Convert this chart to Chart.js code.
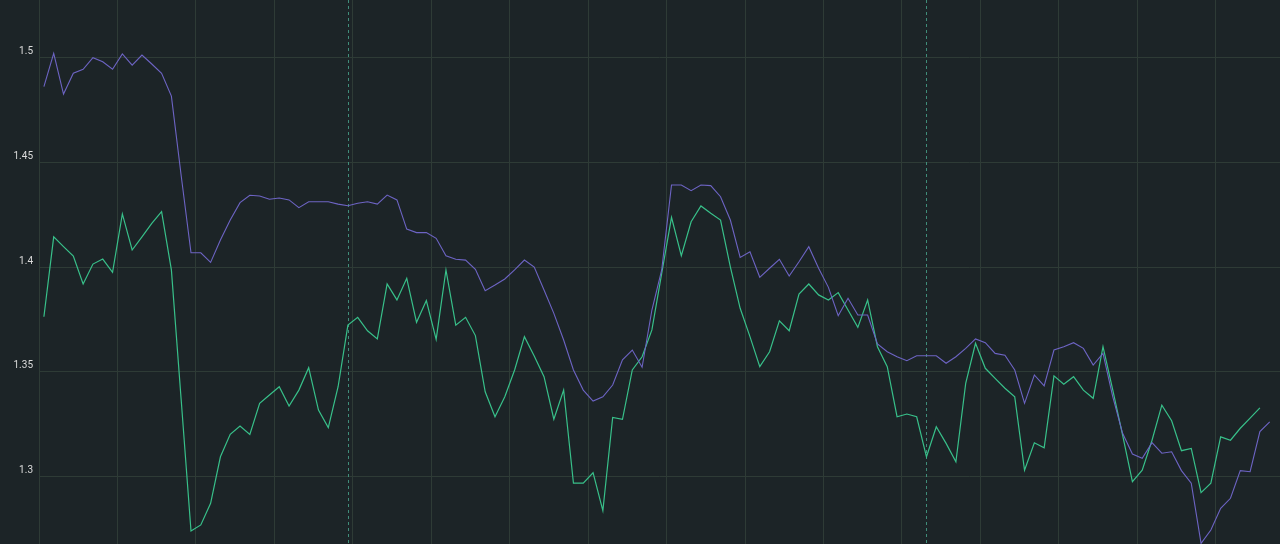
<!DOCTYPE html>
<html>
<head>
<meta charset="utf-8">
<script src="https://cdn.jsdelivr.net/npm/chart.js@4"></script>
<style>
  html, body { margin: 0; padding: 0; background: #1c2427; }
  #wrap { width: 1280px; height: 544px; }
</style>
</head>
<body>
<div id="wrap"><canvas id="chart"></canvas></div>
<script>
const purpleValues = [
    1.4860, 1.5019, 1.4825, 1.4924, 1.4943, 1.4998, 1.4979, 1.4943, 1.5016, 1.4963,
    1.5011, 1.4968, 1.4924, 1.4815, 1.4435, 1.4068, 1.4068, 1.4022, 1.4129, 1.4224,
    1.4307, 1.4342, 1.4339, 1.4323, 1.4329, 1.4320, 1.4283, 1.4311, 1.4311, 1.4311,
    1.4300, 1.4292, 1.4304, 1.4311, 1.4300, 1.4343, 1.4320, 1.4181, 1.4164, 1.4164,
    1.4137, 1.4054, 1.4037, 1.4033, 1.3989, 1.3887, 1.3914, 1.3943, 1.3986, 1.4033,
    1.4000, 1.3890, 1.3779, 1.3652, 1.3509, 1.3413, 1.3361, 1.3381, 1.3437, 1.3557,
    1.3604, 1.3522, 1.3795, 1.3986, 1.4391, 1.4391, 1.4364, 1.4391, 1.4388, 1.4335,
    1.4224, 1.4046, 1.4073, 1.3951, 1.3994, 1.4037, 1.3957, 1.4025, 1.4097, 1.3994,
    1.3903, 1.3768, 1.3851, 1.3771, 1.3771, 1.3633, 1.3596, 1.3572, 1.3553, 1.3577,
    1.3577, 1.3577, 1.3541, 1.3572, 1.3612, 1.3657, 1.3639, 1.3588, 1.3579, 1.3509,
    1.3350, 1.3485, 1.3433, 1.3604, 1.3620, 1.3639, 1.3612, 1.3532, 1.3588, 1.3381,
    1.3207, 1.3108, 1.3088, 1.3162, 1.3112, 1.3119, 1.3029, 1.2969, 1.2682, 1.2746,
    1.2849, 1.2897, 1.3029, 1.3024, 1.3215, 1.3262
];

const greenValues = [
    1.3763, 1.4144, 1.4097, 1.4052, 1.3919, 1.4014, 1.4038, 1.3975, 1.4253, 1.4081,
    1.4144, 1.4208, 1.4264, 1.3986, 1.3366, 1.2741, 1.2770, 1.2873, 1.3095, 1.3202,
    1.3242, 1.3202, 1.3350, 1.3390, 1.3429, 1.3337, 1.3413, 1.3520, 1.3318, 1.3234,
    1.3429, 1.3723, 1.3760, 1.3696, 1.3657, 1.3919, 1.3843, 1.3946, 1.3736, 1.3840,
    1.3655, 1.3986, 1.3723, 1.3760, 1.3673, 1.3405, 1.3286, 1.3381, 1.3509, 1.3668,
    1.3576, 1.3477, 1.3274, 1.3413, 1.2969, 1.2969, 1.3019, 1.2838, 1.3283, 1.3274,
    1.3509, 1.3572, 1.3700, 1.3970, 1.4237, 1.4054, 1.4216, 1.4291, 1.4256, 1.4224,
    1.4001, 1.3803, 1.3668, 1.3525, 1.3596, 1.3743, 1.3696, 1.3871, 1.3919, 1.3867,
    1.3843, 1.3878, 1.3795, 1.3712, 1.3843, 1.3620, 1.3525, 1.3286, 1.3299, 1.3286,
    1.3095, 1.3238, 1.3159, 1.3071, 1.3445, 1.3636, 1.3517, 1.3469, 1.3422, 1.3381,
    1.3031, 1.3162, 1.3138, 1.3481, 1.3441, 1.3477, 1.3413, 1.3374, 1.3620, 1.3413,
    1.3198, 1.2976, 1.3031, 1.3174, 1.3341, 1.3267, 1.3124, 1.3135, 1.2924, 1.2969,
    1.3190, 1.3174, 1.3231, 1.3279, 1.3328, null
];

const yTicks = [1.3, 1.35, 1.4, 1.45, 1.5];

// points where the dashed markers sit
const markers = [31, 90];

function toPoints(values) {
    return values.map((v, i) => ({ x: i + 0.5, y: v }));
}

const markerLines = {
    id: 'markerLines',
    beforeDatasetsDraw(chart) {
        const ctx = chart.ctx;
        const area = chart.chartArea;
        const xScale = chart.scales.x;
        ctx.save();
        ctx.strokeStyle = 'rgba(70,160,138,0.85)';
        ctx.lineWidth = 1;
        ctx.setLineDash([3, 3]);
        markers.forEach((m) => {
            const px = Math.round(xScale.getPixelForValue(m + 0.5)) + 0.5;
            ctx.beginPath();
            ctx.moveTo(px, area.top);
            ctx.lineTo(px, area.bottom);
            ctx.stroke();
        });
        ctx.restore();
    }
};

const gridColor = '#2e3b36';

const config = {
    type: 'line',
    data: {
        datasets: [
            {
                data: toPoints(purpleValues),
                borderColor: '#6d64c4',
                borderWidth: 1.1,
                pointRadius: 0,
                tension: 0
            },
            {
                data: toPoints(greenValues),
                borderColor: '#38c08a',
                borderWidth: 1.2,
                pointRadius: 0,
                tension: 0
            }
        ]
    },
    options: {
        responsive: true,
        maintainAspectRatio: false,
        animation: false,
        layout: { padding: 0 },
        plugins: {
            legend: { display: false },
            tooltip: { enabled: false }
        },
        scales: {
            x: {
                type: 'linear',
                min: 0,
                max: 126.55,
                ticks: { display: false, stepSize: 8 },
                afterBuildTicks(scale) {
                    const t = [];
                    for (let v = 0; v <= 126; v += 8) t.push({ value: v });
                    scale.ticks = t;
                },
                afterFit(scale) {
                    scale.height = 0;
                    scale.paddingLeft = 0;
                    scale.paddingRight = 0;
                },
                grid: { color: gridColor, lineWidth: 1, drawTicks: false },
                border: { display: false }
            },
            y: {
                min: 1.26791,
                max: 1.52733,
                afterBuildTicks(scale) {
                    scale.ticks = yTicks.map((v) => ({ value: v }));
                },
                afterFit(scale) {
                    scale.width = 39;
                    scale.paddingTop = 0;
                    scale.paddingBottom = 0;
                },
                ticks: {
                    color: '#dcdcdc',
                    padding: 6,
                    labelOffset: -6,
                    font: { family: 'Roboto', size: 10 },
                    callback: (v) => String(Math.round(v * 100) / 100)
                },
                grid: { color: gridColor, lineWidth: 1, drawTicks: false },
                border: { display: false }
            }
        }
    },
    plugins: [markerLines]
};

const chart = new Chart(document.getElementById('chart'), config);
</script>
</body>
</html>
